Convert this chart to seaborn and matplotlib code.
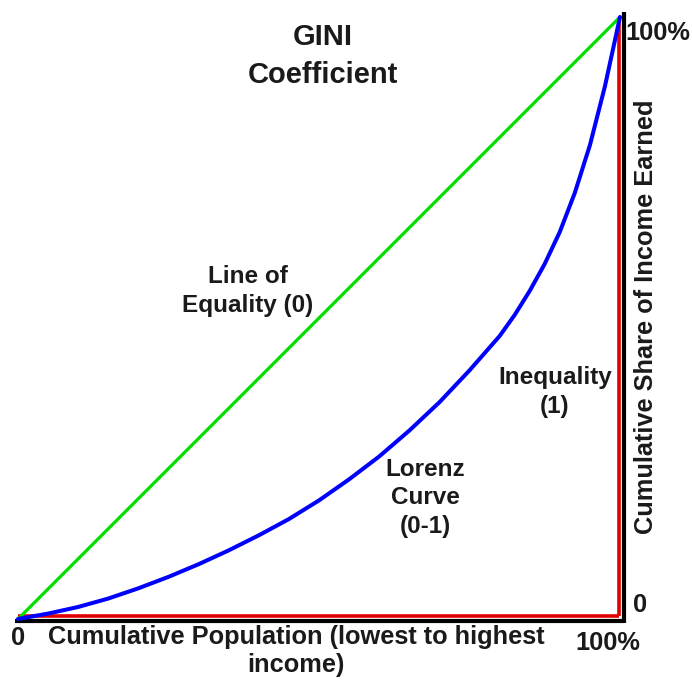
import numpy as np
import pandas as pd
import seaborn as sns
import matplotlib.pyplot as plt

# cumulative population share vs cumulative income share
population = [0, 0.05, 0.1, 0.15, 0.2, 0.25, 0.3, 0.35, 0.4, 0.45, 0.5, 0.55, 0.6, 0.65,
              0.7, 0.75, 0.8, 0.825, 0.85, 0.875, 0.9, 0.925, 0.95, 0.975, 1.0]
lorenz_share = [0, 0.009, 0.020, 0.034, 0.051, 0.070, 0.091, 0.114, 0.139, 0.166, 0.197, 0.232,
                0.270, 0.313, 0.360, 0.413, 0.470, 0.505, 0.545, 0.590, 0.643, 0.708, 0.787,
                0.885, 1.0]
equality_x = [0, 1]
equality_y = [0, 1]

sns.set_theme(style="white")
plt.rcParams['font.family'] = ['Liberation Sans', 'DejaVu Sans']

lorenz = pd.DataFrame({"pop": population, "share": lorenz_share})
equality = pd.DataFrame({"pop": equality_x, "share": equality_y})

fig = plt.figure(figsize=(6.92, 6.80), dpi=100)
ax = fig.add_axes([18 / 692, 61 / 680, 602 / 692, 602 / 680])

# perfect inequality boundary: black shadow with red line on top
ax.plot([-0.005, 1.006], [-0.004, -0.004], color="black", lw=3.0, clip_on=False, solid_capstyle="butt")
ax.plot([1.006, 1.006], [-0.006, 1.008], color="black", lw=3.0, clip_on=False, solid_capstyle="butt")
ax.plot([0, 0.998], [0.005, 0.005], color="#e00000", lw=2.6, clip_on=False, solid_capstyle="butt")
ax.plot([0.998, 0.998], [0.005, 1.0], color="#e00000", lw=2.6, clip_on=False, solid_capstyle="butt")

sns.lineplot(data=equality, x="pop", y="share", color="#00e000", lw=2.3, ax=ax, clip_on=False)
sns.lineplot(data=lorenz, x="pop", y="share", color="#0000ff", lw=2.9, ax=ax, clip_on=False)
ax.set_xlim(0, 1)
ax.set_ylim(0, 1)
ax.axis("off")

txt = dict(fontweight="bold", color="#1a1a1a", ha="center", va="center")


def fx(px):
    return px / 692


def fy(py):
    return 1 - py / 680


fig.text(fx(323), fy(56), "GINI\nCoefficient", fontsize=21, linespacing=1.45, **txt)
fig.text(fx(248), fy(291), "Line of\nEquality (0)", fontsize=17.5, linespacing=1.33, **txt)
fig.text(fx(425), fy(498), "Lorenz\nCurve\n(0-1)", fontsize=17.5, linespacing=1.33, **txt)
fig.text(fx(555), fy(392), "Inequality\n(1)", fontsize=17.5, linespacing=1.33, **txt)
fig.text(fx(18), fy(638), "0", fontsize=18.3, **txt)
fig.text(fx(296), fy(651), "Cumulative Population (lowest to highest\nincome)",
         fontsize=18.3, linespacing=1.24, **txt)
fig.text(fx(608), fy(643), "100%", fontsize=18.3, **txt)
fig.text(fx(640), fy(605), "0", fontsize=18.3, **txt)
fig.text(fx(658), fy(33), "100%", fontsize=18.3, **txt)
fig.text(fx(646), fy(317), "Cumulative Share of Income Earned", fontsize=18.3, rotation=90, **txt)

fig.savefig("out.png", dpi=100, facecolor="white")
